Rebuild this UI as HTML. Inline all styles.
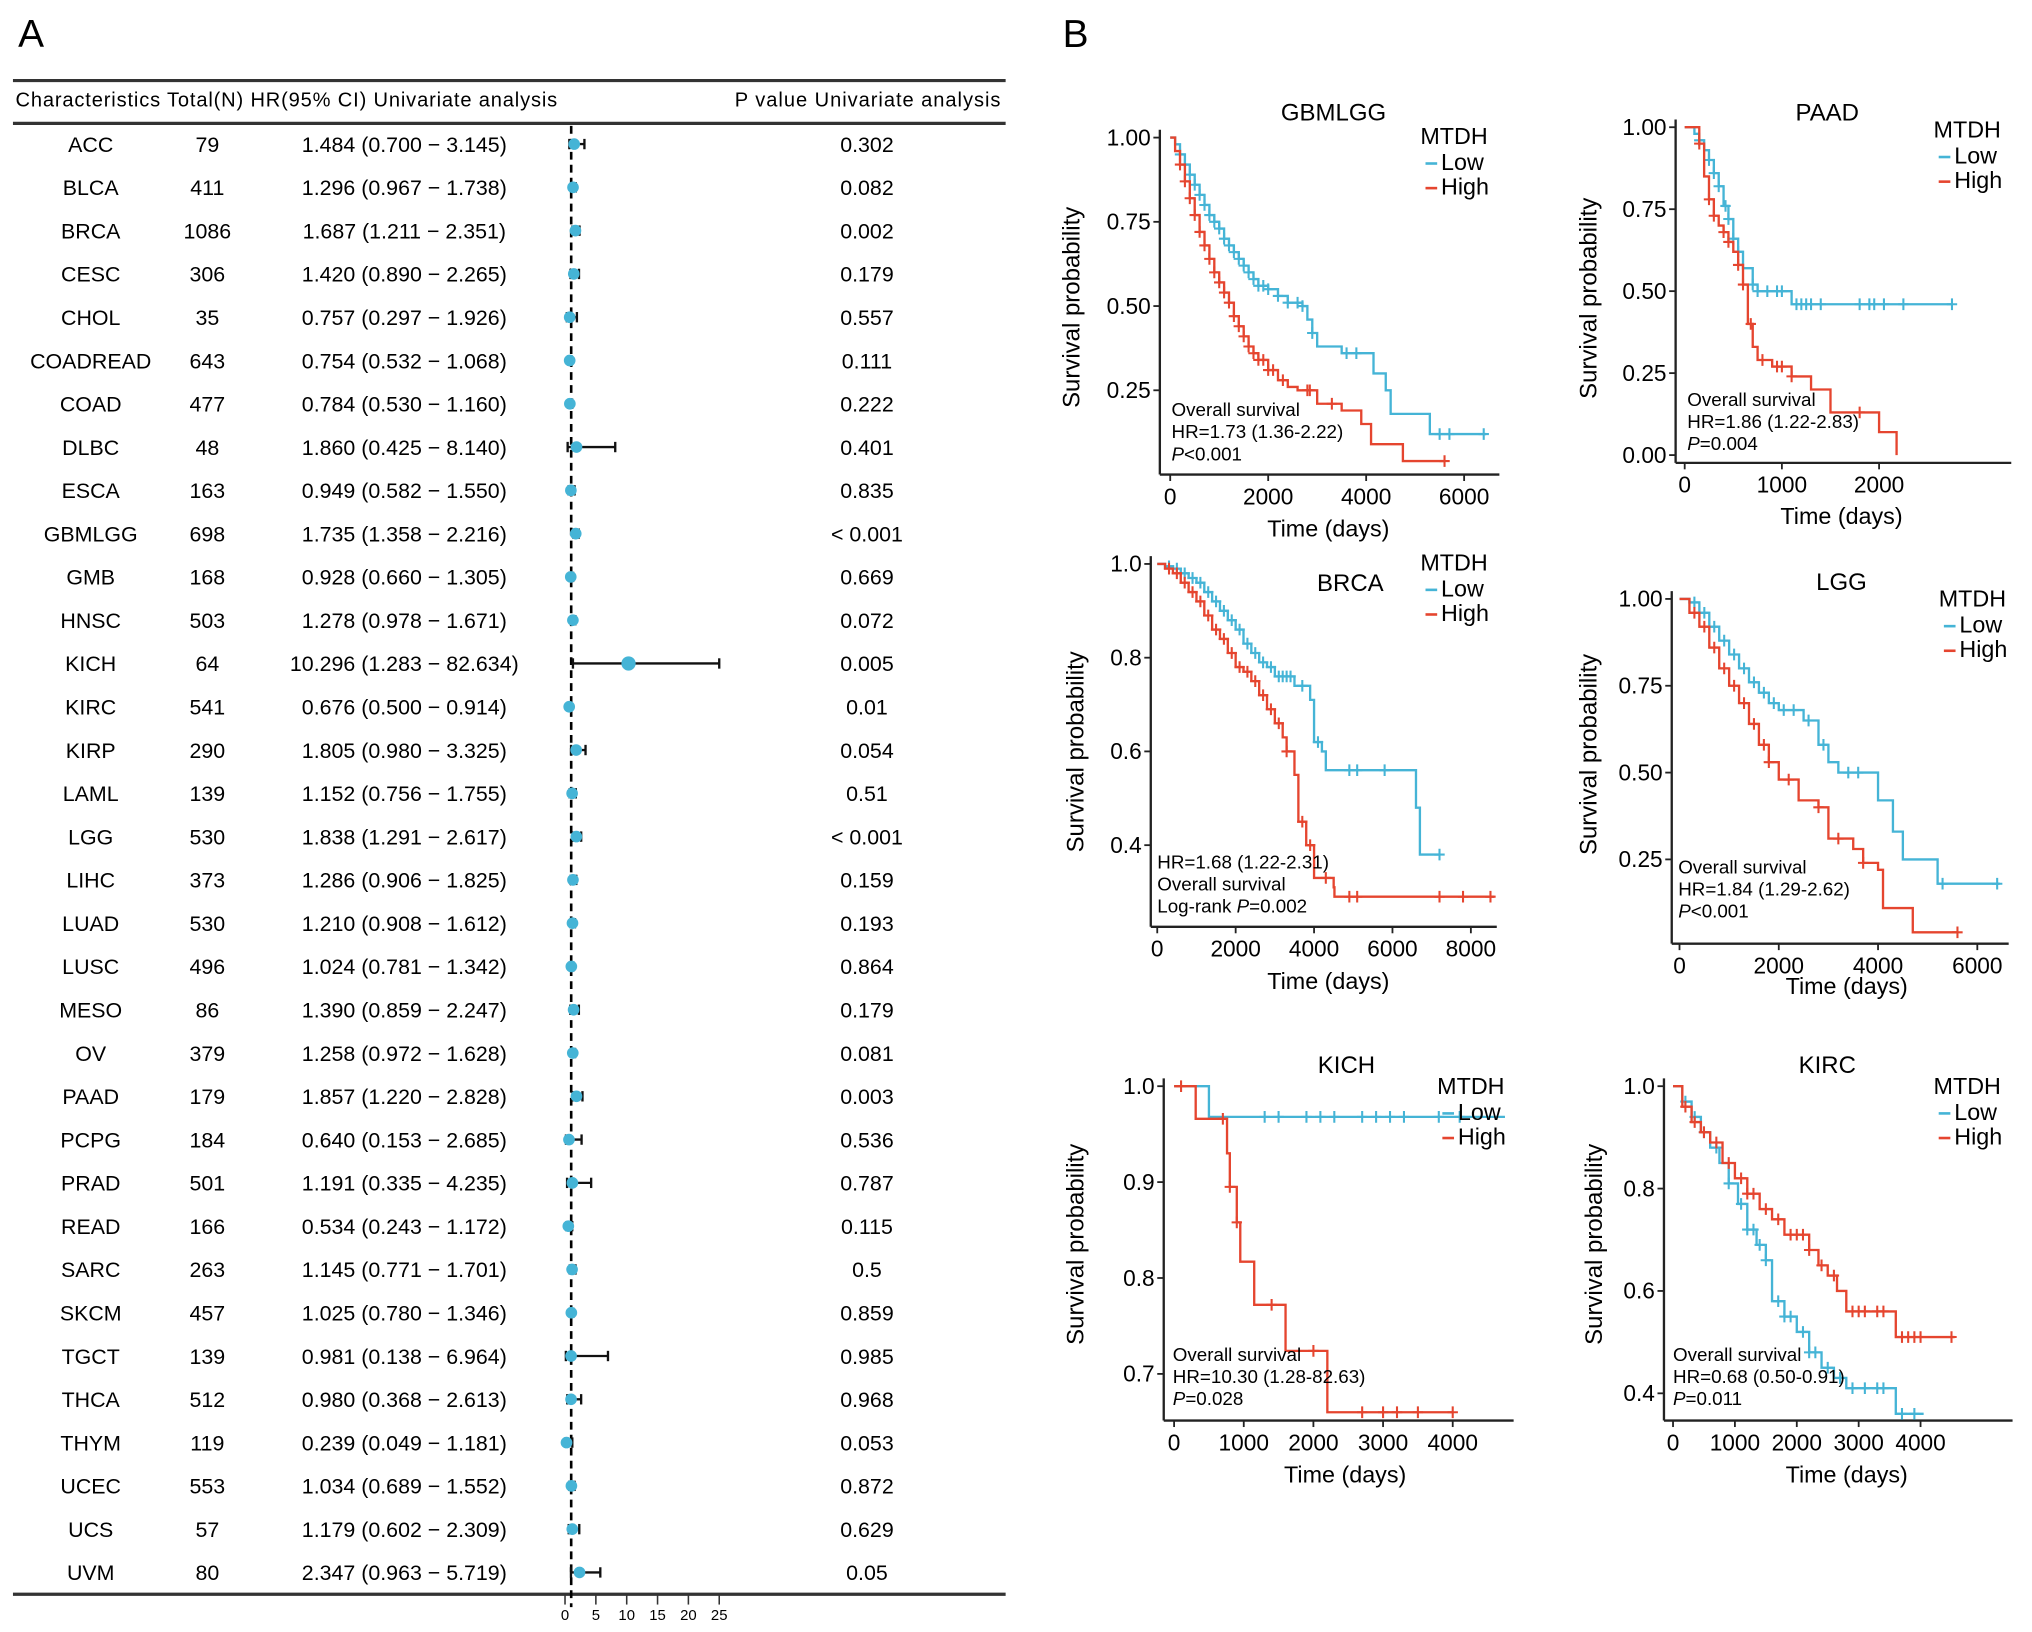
<!DOCTYPE html>
<html><head><meta charset="utf-8"><style>
html,body{margin:0;padding:0;background:#fff;}
svg{display:block;font-family:"Liberation Sans",Arial,sans-serif;}
</style></head><body>
<svg id="fig" width="2032" height="1632" viewBox="0 0 1568 1259" xmlns="http://www.w3.org/2000/svg">
<text x="14" y="36" font-size="30">A</text>
<text x="820" y="36" font-size="30">B</text>
<g id="forest"></g>
<g id="km"></g>
</svg>
<script>
// ---------- Forest plot data ----------
const cancers = ["ACC","BLCA","BRCA","CESC","CHOL","COADREAD","COAD","DLBC","ESCA","GBMLGG","GMB","HNSC","KICH","KIRC","KIRP","LAML","LGG","LIHC","LUAD","LUSC","MESO","OV","PAAD","PCPG","PRAD","READ","SARC","SKCM","TGCT","THCA","THYM","UCEC","UCS","UVM"];
const totals = [79,411,1086,306,35,643,477,48,163,698,168,503,64,541,290,139,530,373,530,496,86,379,179,184,501,166,263,457,139,512,119,553,57,80];
const hrs = [1.484,1.296,1.687,1.420,0.757,0.754,0.784,1.860,0.949,1.735,0.928,1.278,10.296,0.676,1.805,1.152,1.838,1.286,1.210,1.024,1.390,1.258,1.857,0.640,1.191,0.534,1.145,1.025,0.981,0.980,0.239,1.034,1.179,2.347];
const lows = [0.700,0.967,1.211,0.890,0.297,0.532,0.530,0.425,0.582,1.358,0.660,0.978,1.283,0.500,0.980,0.756,1.291,0.906,0.908,0.781,0.859,0.972,1.220,0.153,0.335,0.243,0.771,0.780,0.138,0.368,0.049,0.689,0.602,0.963];
const highs = [3.145,1.738,2.351,2.265,1.926,1.068,1.160,8.140,1.550,2.216,1.305,1.671,82.634,0.914,3.325,1.755,2.617,1.825,1.612,1.342,2.247,1.628,2.828,2.685,4.235,1.172,1.701,1.346,6.964,2.613,1.181,1.552,2.309,5.719];
const pvals = ["0.302","0.082","0.002","0.179","0.557","0.111","0.222","0.401","0.835","< 0.001","0.669","0.072","0.005","0.01","0.054","0.51","< 0.001","0.159","0.193","0.864","0.179","0.081","0.003","0.536","0.787","0.115","0.5","0.859","0.985","0.968","0.053","0.872","0.629","0.05"];
const forestTicks = [0,5,10,15,20,25];

// ---------- KM data ----------
const gbmLow = [[0,1],[100,0.98],[200,0.95],[300,0.92],[400,0.89],[500,0.86],[600,0.83],[700,0.80],[800,0.77],[900,0.75],[1000,0.73],[1100,0.70],[1200,0.68],[1300,0.66],[1400,0.64],[1500,0.62],[1600,0.60],[1700,0.58],[1800,0.56],[2000,0.55],[2200,0.53],[2400,0.51],[2700,0.50],[2800,0.46],[2900,0.42],[3000,0.38],[3500,0.36],[4000,0.36],[4150,0.30],[4400,0.25],[4500,0.18],[5300,0.12],[6450,0.12]];
const gbmHigh = [[0,1],[100,0.96],[200,0.92],[300,0.87],[400,0.82],[500,0.77],[600,0.72],[700,0.68],[800,0.64],[900,0.60],[1000,0.57],[1100,0.54],[1200,0.51],[1300,0.47],[1400,0.44],[1500,0.41],[1600,0.38],[1700,0.36],[1800,0.34],[2000,0.31],[2200,0.28],[2400,0.26],[2600,0.25],[3000,0.21],[3500,0.19],[3900,0.15],[4100,0.09],[4750,0.04],[5600,0.04]];
const gbmLowC = [200,300,400,500,600,700,800,900,1000,1100,1200,1300,1400,1500,1600,1700,1800,1900,2000,2200,2400,2600,2700,2900,3600,3800,5500,5700,6400];
const gbmHighC = [200,300,400,500,600,700,800,900,1000,1100,1200,1300,1400,1500,1600,1700,1800,1900,2000,2100,2300,2800,2850,3300,5600];
const paadLow = [[0,1],[100,0.98],[150,0.96],[200,0.93],[250,0.90],[300,0.86],[350,0.82],[400,0.76],[450,0.72],[500,0.66],[550,0.62],[600,0.57],[700,0.52],[750,0.50],[1100,0.46],[2750,0.46]];
const paadHigh = [[0,1],[150,0.95],[200,0.85],[250,0.78],[300,0.73],[350,0.70],[400,0.68],[450,0.65],[500,0.62],[550,0.58],[600,0.52],[650,0.40],[700,0.33],[750,0.29],[900,0.27],[1100,0.24],[1300,0.20],[1500,0.13],[2000,0.07],[2180,0.0]];
const paadLowC = [150,250,300,350,420,450,500,550,700,750,850,950,1000,1150,1200,1250,1300,1400,1800,1900,1950,2050,2250,2750];
const paadHighC = [150,250,300,400,450,550,600,680,800,950,1000,1100,1800];
const brcaLow = [[0,1],[200,0.995],[400,0.99],[600,0.98],[800,0.97],[1000,0.96],[1200,0.94],[1400,0.92],[1600,0.90],[1800,0.88],[2000,0.86],[2200,0.83],[2400,0.81],[2600,0.79],[2800,0.78],[3000,0.76],[3500,0.74],[3900,0.71],[4000,0.62],[4200,0.60],[4300,0.56],[6500,0.56],[6600,0.48],[6700,0.38],[7200,0.38]];
const brcaHigh = [[0,1],[200,0.99],[400,0.98],[600,0.96],[800,0.94],[1000,0.92],[1200,0.89],[1400,0.86],[1600,0.84],[1800,0.81],[2000,0.78],[2200,0.77],[2400,0.75],[2600,0.72],[2800,0.69],[3000,0.66],[3200,0.63],[3300,0.60],[3500,0.55],[3600,0.45],[3800,0.40],[4000,0.33],[4500,0.31],[4520,0.29],[8600,0.29]];
const brcaLowC = [300,500,700,900,1100,1300,1500,1700,1900,2100,2300,2500,2700,2900,3100,3200,3300,3400,3700,4100,4900,5100,5800,7200];
const brcaHighC = [300,500,700,900,1100,1300,1500,1700,1900,2100,2300,2500,2700,2900,3100,3300,3700,3900,4300,4900,5100,7200,7800,8500];
const lggLow = [[0,1],[200,0.99],[400,0.96],[600,0.92],[800,0.88],[1000,0.84],[1200,0.80],[1400,0.76],[1600,0.73],[1800,0.70],[2000,0.68],[2500,0.65],[2800,0.58],[3000,0.53],[3200,0.50],[3800,0.50],[4000,0.42],[4300,0.33],[4500,0.25],[5200,0.18],[6450,0.18]];
const lggHigh = [[0,1],[200,0.96],[400,0.92],[600,0.86],[800,0.80],[1000,0.75],[1200,0.70],[1400,0.64],[1600,0.58],[1800,0.53],[2000,0.48],[2400,0.42],[2800,0.40],[3000,0.31],[3500,0.28],[3700,0.24],[4000,0.22],[4100,0.11],[4700,0.04],[5600,0.04]];
const lggLowC = [300,500,700,900,1100,1300,1500,1700,1900,2100,2300,2600,2900,3400,3600,5300,6400];
const lggHighC = [300,500,700,900,1100,1300,1500,1700,1800,2200,2800,3200,3700,5600];
const kichLow = [[0,1],[450,1],[500,0.968],[4750,0.968]];
const kichHigh = [[0,1],[300,1],[310,0.966],[700,0.966],[760,0.93],[800,0.895],[900,0.858],[950,0.817],[1150,0.772],[1600,0.724],[2200,0.66],[4000,0.66]];
const kichLowC = [1300,1500,1900,2100,2300,2700,2900,3100,3300,3800,4100];
const kichHighC = [100,700,800,900,1400,2000,2700,3000,3200,3500,4000];
const kircLow = [[0,1],[150,0.97],[300,0.94],[450,0.91],[600,0.88],[750,0.85],[900,0.81],[1050,0.77],[1200,0.72],[1350,0.69],[1500,0.66],[1600,0.58],[1800,0.55],[2000,0.52],[2200,0.48],[2400,0.45],[2600,0.43],[2800,0.41],[3550,0.41],[3600,0.36],[4050,0.36]];
const kircHigh = [[0,1],[150,0.96],[300,0.93],[450,0.91],[600,0.89],[800,0.85],[1000,0.82],[1200,0.79],[1400,0.76],[1600,0.74],[1800,0.71],[2200,0.68],[2350,0.65],[2500,0.63],[2650,0.60],[2800,0.56],[3580,0.56],[3600,0.51],[4550,0.51]];
const kircLowC = [200,350,500,700,900,1100,1200,1300,1400,1500,1700,1800,1900,2100,2200,2300,2500,2700,2900,3100,3300,3400,3700,3900];
const kircHighC = [200,350,500,700,900,1100,1200,1300,1500,1700,1900,2000,2100,2200,2400,2600,2900,3000,3100,3300,3400,3700,3800,3900,4000,4500];

const NS = "http://www.w3.org/2000/svg";
const LOWC = "#45b4d6", HIGHC = "#e5452f";
function mk(tag, attrs, parent) {
  const e = document.createElementNS(NS, tag);
  for (const k in attrs) e.setAttribute(k, attrs[k]);
  parent.appendChild(e);
  return e;
}
function txt(parent, x, y, s, size, anchor, extra) {
  const t = mk("text", Object.assign({x: x, y: y, "font-size": size, "text-anchor": anchor || "start"}, extra || {}), parent);
  t.textContent = s;
  return t;
}

// ---------- Forest plot ----------
(function () {
  const g = document.getElementById("forest");
  const rowY = i => 111 + i * 33.4;
  const fx = v => 436 + Math.min(v, 25) * (119 / 25);
  [62, 95, 1230].forEach((y, k) => {
    const l = mk("line", {x1: 10, x2: 776, y1: y, y2: y, stroke: "#333", "stroke-width": 2.5}, g);
    
    
  });
  let h = txt(g, 12, 82, "Characteristics Total(N) HR(95% CI) Univariate analysis", 15.5, "start", {textLength: 418});
  
  
  h = txt(g, 772, 82, "P value Univariate analysis", 15.5, "end", {textLength: 205});
  
  
  const dl = mk("line", {x1: fx(1), x2: fx(1), y1: 97, y2: 1240, stroke: "#000", "stroke-width": 2, "stroke-dasharray": "6,4"}, g);
  
  
  cancers.forEach((c, i) => {
    const y = rowY(i);
    const row = mk("g", {}, g);
    
    
    txt(row, 70, y + 6, c, 16.5, "middle");
    txt(row, 160, y + 6, String(totals[i]), 16.5, "middle");
    txt(row, 312, y + 6, hrs[i].toFixed(3) + " (" + lows[i].toFixed(3) + " \u2212 " + highs[i].toFixed(3) + ")", 16.5, "middle");
    txt(row, 669, y + 6, pvals[i], 16.5, "middle");
    const x1 = fx(lows[i]), x2 = fx(highs[i]);
    mk("line", {x1: x1, x2: x2, y1: y, y2: y, stroke: "#111", "stroke-width": 1.8}, row);
    mk("line", {x1: x1, x2: x1, y1: y - 4, y2: y + 4, stroke: "#111", "stroke-width": 1.8}, row);
    mk("line", {x1: x2, x2: x2, y1: y - 4, y2: y + 4, stroke: "#111", "stroke-width": 1.8}, row);
    const pt = mk("circle", {cx: fx(hrs[i]), cy: y, r: hrs[i] > 5 ? 5.5 : 4.5, fill: LOWC}, row);
    
    
  });
  forestTicks.forEach(t => {
    const x = 436 + t * (119 / 25);
    mk("line", {x1: x, x2: x, y1: 1230, y2: 1238, stroke: "#333", "stroke-width": 1.2}, g);
    const tl = txt(g, x, 1250, String(t), 11.5, "middle");
    
    
  });
})();

// ---------- KM panels ----------
function km(p) {
  const root = document.getElementById("km");
  const g = mk("g", {}, root);
  
  
  const X = t => p.x0 + (t / 1000) * p.xs;
  const Y = v => p.y1 + (1 - v) * (p.y0 - p.y1) / (1 - p.ymin);
  mk("line", {x1: p.ax, x2: p.ax, y1: p.y1 - 6, y2: p.axY, stroke: "#222", "stroke-width": 1.8}, g);
  mk("line", {x1: p.ax, x2: p.axEnd, y1: p.axY, y2: p.axY, stroke: "#222", "stroke-width": 1.8}, g);
  p.yt.forEach(v => {
    const y = Y(v);
    mk("line", {x1: p.ax - 5, x2: p.ax, y1: y, y2: y, stroke: "#222", "stroke-width": 1.4}, g);
    const l = txt(g, p.ax - 7, y + 6, p.ylab(v), 17.5, "end");
    
    
  });
  p.xt.forEach(t => {
    const x = X(t);
    mk("line", {x1: x, x2: x, y1: p.axY, y2: p.axY + 5, stroke: "#222", "stroke-width": 1.4}, g);
    const l = txt(g, x, p.axY + 23, String(t), 17.5, "middle");
    
    
  });
  let e = txt(g, p.tx, p.ty, p.title, 18.5, "middle");
  
  
  e = txt(g, 0, 0, "Survival probability", 18.5, "middle", {transform: "translate(" + p.ylx + "," + p.yly + ") rotate(-90)"});
  
  
  e = txt(g, p.xlx, p.xly, "Time (days)", 18, "middle");
  
  
  [[p.low, p.lowC, LOWC, "low"], [p.high, p.highC, HIGHC, "high"]].forEach(([pts, cens, col, nm]) => {
    let d = "M" + X(pts[0][0]) + "," + Y(pts[0][1]);
    for (let i = 1; i < pts.length; i++) {
      d += " H" + X(pts[i][0]) + " V" + Y(pts[i][1]);
    }
    const path = mk("path", {d: d, fill: "none", stroke: col, "stroke-width": 1.8}, g);
    
    
    cens.forEach(t => {
      let v = pts[0][1];
      for (const q of pts) { if (q[0] <= t) v = q[1]; }
      const x = X(t), y = Y(v);
      mk("path", {d: "M" + (x - 4) + "," + y + " H" + (x + 4) + " M" + x + "," + (y - 4.5) + " V" + (y + 4.5), stroke: col, "stroke-width": 1.6}, g);
    });
  });
  e = txt(g, p.lgx, p.lgy, "MTDH", 18, "middle");
  
  
  [["Low", LOWC], ["High", HIGHC]].forEach(([s, c], k) => {
    const y = p.lgy + 20 + k * 19;
    const le = mk("g", {}, g);
    
    
    mk("line", {x1: p.lgx - 22, x2: p.lgx - 13, y1: y - 5, y2: y - 5, stroke: c, "stroke-width": 2}, le);
    txt(le, p.lgx - 10, y, s, 18);
  });
  p.ann.forEach((s, k) => {
    const t = txt(g, p.anx, p.any + k * 17, "", 14.5);
    
    
    if (s.startsWith("P") || s.startsWith("Log")) {
      const idx = s.indexOf("P");
      const a = mk("tspan", {}, t); a.textContent = s.slice(0, idx);
      const b = mk("tspan", {"font-style": "italic"}, t); b.textContent = "P";
      const c = mk("tspan", {}, t); c.textContent = s.slice(idx + 1);
    } else t.textContent = s;
  });
}
const f2 = v => v.toFixed(2), f1 = v => v.toFixed(1);
km({title: "GBMLGG", low: gbmLow, high: gbmHigh, lowC: gbmLowC, highC: gbmHighC, x0: 903, xs: 37.8, y1: 106, y0: 366, ymin: 0, ax: 895, axY: 366, axEnd: 1157,
  yt: [0.25, 0.5, 0.75, 1], ylab: f2, xt: [0, 2000, 4000, 6000], tx: 1029, ty: 93, ylx: 833, yly: 237, xlx: 1025, xly: 414, lgx: 1122, lgy: 111,
  anx: 904, any: 321, ann: ["Overall survival", "HR=1.73 (1.36-2.22)", "P<0.001"]});
km({title: "PAAD", low: paadLow, high: paadHigh, lowC: paadLowC, highC: paadHighC, x0: 1300, xs: 75, y1: 98, y0: 351, ymin: 0, ax: 1293, axY: 357, axEnd: 1552,
  yt: [0, 0.25, 0.5, 0.75, 1], ylab: f2, xt: [0, 1000, 2000], tx: 1410, ty: 93, ylx: 1232, yly: 230, xlx: 1421, xly: 404, lgx: 1518, lgy: 106,
  anx: 1302, any: 313, ann: ["Overall survival", "HR=1.86 (1.22-2.83)", "P=0.004"]});
km({title: "BRCA", low: brcaLow, high: brcaHigh, lowC: brcaLowC, highC: brcaHighC, x0: 893, xs: 30.25, y1: 435, y0: 652, ymin: 0.4, ax: 888, axY: 715, axEnd: 1155,
  yt: [0.4, 0.6, 0.8, 1.0], ylab: f1, xt: [0, 2000, 4000, 6000, 8000], tx: 1042, ty: 456, ylx: 836, yly: 580, xlx: 1025, xly: 763, lgx: 1122, lgy: 440,
  anx: 893, any: 670, ann: ["HR=1.68 (1.22-2.31)", "Overall survival", "Log-rank P=0.002"]});
km({title: "LGG", low: lggLow, high: lggHigh, lowC: lggLowC, highC: lggHighC, x0: 1296, xs: 38.3, y1: 462, y0: 730, ymin: 0, ax: 1290, axY: 728, axEnd: 1550,
  yt: [0.25, 0.5, 0.75, 1], ylab: f2, xt: [0, 2000, 4000, 6000], tx: 1421, ty: 455, ylx: 1232, yly: 582, xlx: 1425, xly: 767, lgx: 1522, lgy: 468,
  anx: 1295, any: 674, ann: ["Overall survival", "HR=1.84 (1.29-2.62)", "P<0.001"]});
km({title: "KICH", low: kichLow, high: kichHigh, lowC: kichLowC, highC: kichHighC, x0: 906, xs: 53.75, y1: 838, y0: 1060, ymin: 0.7, ax: 898, axY: 1096, axEnd: 1168,
  yt: [0.7, 0.8, 0.9, 1.0], ylab: f1, xt: [0, 1000, 2000, 3000, 4000], tx: 1039, ty: 828, ylx: 836, yly: 960, xlx: 1038, xly: 1144, lgx: 1135, lgy: 844,
  anx: 905, any: 1050, ann: ["Overall survival", "HR=10.30 (1.28-82.63)", "P=0.028"]});
km({title: "KIRC", low: kircLow, high: kircHigh, lowC: kircLowC, highC: kircHighC, x0: 1291, xs: 47.75, y1: 838, y0: 1075, ymin: 0.4, ax: 1284, axY: 1096, axEnd: 1553,
  yt: [0.4, 0.6, 0.8, 1.0], ylab: f1, xt: [0, 1000, 2000, 3000, 4000], tx: 1410, ty: 828, ylx: 1236, yly: 960, xlx: 1425, xly: 1144, lgx: 1518, lgy: 844,
  anx: 1291, any: 1050, ann: ["Overall survival", "HR=0.68 (0.50-0.91)", "P=0.011"]});
</script>
</body></html>
